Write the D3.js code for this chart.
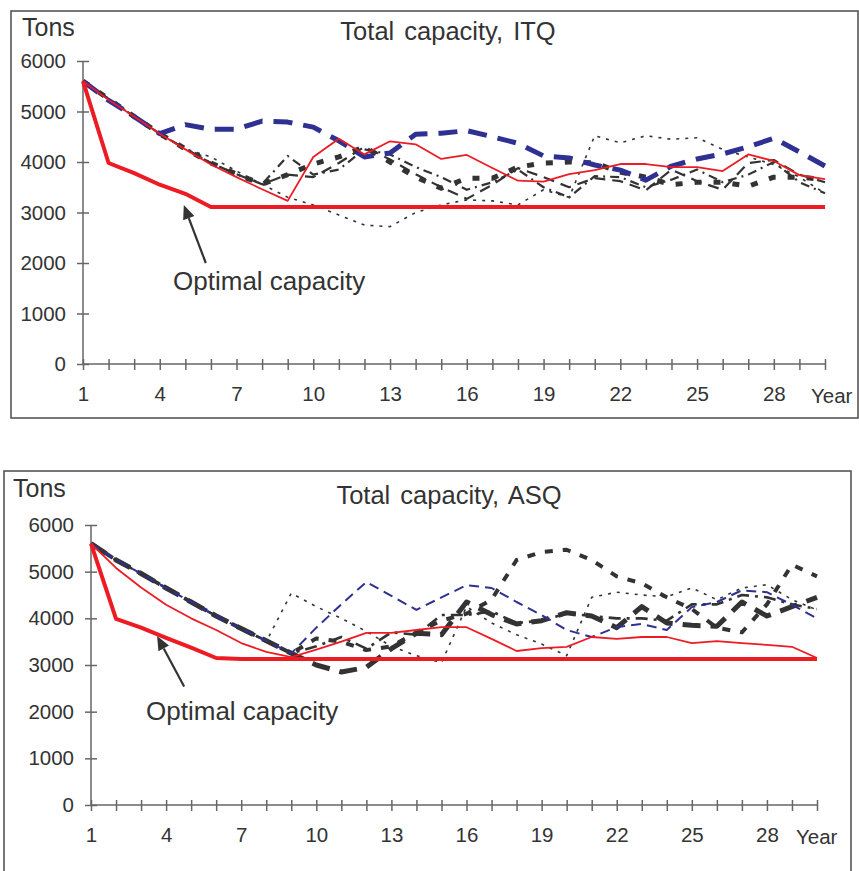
<!DOCTYPE html>
<html><head><meta charset="utf-8">
<script src="https://cdn.jsdelivr.net/npm/d3@7/dist/d3.min.js"></script>
<style>
html,body{margin:0;padding:0;background:#fff;}
svg{display:block;}
text{font-family:"Liberation Sans",Arial,Helvetica,sans-serif;fill:#333;}
</style></head>
<body>
<svg id="chart" width="859" height="871"></svg>
<script>
const years = [1,2,3,4,5,6,7,8,9,10,11,12,13,14,15,16,17,18,19,20,21,22,23,24,25,26,27,28,29,30];
const xTickLabels = [1,4,7,10,13,16,19,22,25,28];
const yTicks = [0,1000,2000,3000,4000,5000,6000];

// ITQ panel
const itqOptimal = [5600,3980,3780,3550,3370,3110,3110,3110,3110,3110,3110,3110,3110,3110,3110,3110,3110,3110,3110,3110,3110,3110,3110,3110,3110,3110,3110,3110,3110,3110];
const itqRed     = [5600,5230,4900,4560,4250,3950,3700,3460,3230,4100,4460,4150,4410,4350,4060,4140,3880,3630,3610,3760,3840,3960,3960,3900,3900,3820,4150,4020,3740,3660];
const itqBlue    = [5600,5220,4900,4560,4740,4650,4650,4810,4790,4690,4420,4100,4180,4550,4570,4620,4500,4370,4120,4080,3940,3840,3640,3920,4060,4160,4300,4470,4200,3920];
const itqBlackHeavy = [5600,5250,4900,4560,4260,3980,3760,3560,3750,3960,4100,4300,4000,3700,3480,3680,3680,3900,3980,4000,3980,3800,3700,3550,3600,3600,3520,3700,3700,3650];
const itqBlackDash  = [5600,5250,4900,4560,4260,3980,3760,3560,3750,3700,3980,4300,4050,3760,3500,3270,3550,3880,3700,3500,3680,3620,3440,3850,3620,3450,3980,4040,3750,3600];
const itqBlackDashDot = [5600,5250,4900,4560,4260,3980,3760,3560,4120,3750,3850,4250,4150,3900,3700,3450,3600,3850,3500,3300,3720,3700,3500,3650,3850,3600,3750,4000,3600,3380];
const itqBlackDot   = [5600,5250,4900,4560,4260,4100,3820,3560,3300,3150,2950,2750,2720,3000,3150,3250,3230,3150,3450,3300,4520,4380,4520,4450,4480,4250,4100,3950,3700,3380];

// ASQ panel
const asqOptimal = [5600,3990,3800,3580,3370,3150,3130,3130,3130,3130,3130,3130,3130,3130,3130,3130,3130,3130,3130,3130,3130,3130,3130,3130,3130,3130,3130,3130,3130,3130];
const asqRed     = [5600,5080,4660,4290,4000,3750,3470,3280,3170,3330,3500,3690,3690,3750,3810,3810,3560,3300,3360,3390,3600,3560,3600,3600,3470,3510,3470,3430,3390,3150];
const asqBlue    = [5600,5250,4960,4650,4350,4050,3780,3520,3250,3800,4300,4780,4480,4180,4450,4710,4650,4350,4070,3750,3600,3810,3880,3750,4240,4350,4600,4560,4290,4000];
const asqBlackHeavy = [5600,5250,4960,4650,4350,4050,3780,3520,3250,3000,2850,2950,3350,3680,3650,4350,4080,3880,3950,4120,4050,3800,4250,3900,3850,3830,4350,4050,4250,4450];
const asqBlackDash  = [5600,5250,4960,4650,4350,4050,3780,3520,3250,3570,3500,3320,3400,3700,3950,4100,4400,5250,5420,5470,5250,4900,4750,4450,4200,3800,3700,4300,5150,4900];
const asqBlackDashDot = [5600,5250,4960,4650,4350,4050,3780,3520,3250,3400,3600,3350,3700,3650,4070,4070,4150,3900,3950,4100,4050,4000,4000,3950,4300,4300,4500,4450,4300,4200];
const asqBlackDot   = [5600,5250,4950,4650,4350,4050,3780,3500,4540,4250,4000,3720,3400,3200,3050,4250,3900,3650,3450,3200,4450,4560,4500,4460,4650,4400,4650,4720,4400,4180];

const RED = "#ed1c24", BLUE = "#2e3192", BLACK = "#333333", AXIS = "#666666";

const svg = d3.select("#chart");

function panel(cfg) {
  const g = svg.append("g");
  // frame
  g.append("rect").attr("x", cfg.frame[0]).attr("y", cfg.frame[1])
    .attr("width", cfg.frame[2]).attr("height", cfg.frame[3])
    .attr("fill", "none").attr("stroke", "#555").attr("stroke-width", 1.6);

  const x = d3.scaleLinear().domain([1, 30]).range([cfg.x0, cfg.x1]);
  const y = d3.scaleLinear().domain([0, 6000]).range([cfg.y0, cfg.y1]);

  // y axis
  const ya = g.append("g").attr("transform", `translate(${cfg.x0},0)`)
    .call(d3.axisLeft(y).tickValues(yTicks).tickSize(6).tickPadding(11).tickFormat(d3.format("d")));
  ya.select(".domain").attr("stroke", AXIS).attr("stroke-width", 1.5).attr("d", `M0,${cfg.y0}V${cfg.y1}`);
  ya.selectAll(".tick line").attr("stroke", AXIS).attr("stroke-width", 1.5).attr("x1", -6).attr("x2", 6);
  ya.selectAll(".tick text").attr("font-size", 20.5).attr("fill", "#333")
    .attr("font-family", '"Liberation Sans",Arial,sans-serif');

  // x axis
  const xa = g.append("g").attr("transform", `translate(0,${cfg.y0})`)
    .call(d3.axisBottom(x).tickValues(years).tickSize(5).tickPadding(17)
      .tickFormat(d => xTickLabels.includes(d) ? d : ""));
  xa.select(".domain").attr("stroke", AXIS).attr("stroke-width", 1.5).attr("d", `M${cfg.x0},0H${cfg.x1}`);
  xa.selectAll(".tick line").attr("stroke", AXIS).attr("stroke-width", 1.5).attr("y1", -5).attr("y2", 6);
  xa.selectAll(".tick text").attr("font-size", 20.5).attr("fill", "#333")
    .attr("font-family", '"Liberation Sans",Arial,sans-serif');

  g.append("text").attr("x", cfg.yearX).attr("y", cfg.y0 + 39).attr("font-size", 20.5).text("Year");
  g.append("text").attr("x", cfg.tonsX).attr("y", cfg.tonsY).attr("font-size", 25).text("Tons");
  g.append("text").attr("x", cfg.titleX).attr("y", cfg.titleY).attr("font-size", 25.5)
    .attr("text-anchor", "middle").attr("word-spacing", 3).text(cfg.title);

  const line = d3.line().x((d, i) => x(years[i])).y(d => y(d));
  cfg.series.forEach(s => {
    g.append("path").datum(s.values).attr("d", line)
      .attr("fill", "none").attr("stroke", s.color).attr("stroke-width", s.width)
      .attr("stroke-dasharray", s.dash || null).attr("stroke-linejoin", "round");
  });

  // annotation
  const a = cfg.arrow;
  const tx = x(a.tail[0]), ty = y(a.tail[1]), hx = x(a.head[0]), hy = y(a.head[1]);
  const ang = Math.atan2(hy - ty, hx - tx);
  const L = 14, W = 6;
  const bx = hx - L * Math.cos(ang), by = hy - L * Math.sin(ang);
  g.append("line").attr("x1", tx).attr("y1", ty).attr("x2", bx).attr("y2", by)
    .attr("stroke", "#333").attr("stroke-width", 2.2);
  g.append("path").attr("d",
    `M${hx},${hy}L${bx + W * Math.sin(ang)},${by - W * Math.cos(ang)}L${bx - W * Math.sin(ang)},${by + W * Math.cos(ang)}Z`)
    .attr("fill", "#333");
  g.append("text").attr("x", x(a.label[0])).attr("y", y(a.label[1])).attr("font-size", 26).text("Optimal capacity");
}

panel({
  frame: [11, 11, 847, 407],
  x0: 83, x1: 825, y0: 364, y1: 61,
  yearX: 811, tonsX: 22, tonsY: 36, titleX: 448, titleY: 40,
  title: "Total capacity, ITQ",
  arrow: { tail: [5.8, 2000], head: [4.94, 3150], label: [4.52, 1460] },
  series: [
    { values: itqBlackDot, color: BLACK, width: 1.6, dash: "3,6" },
    { values: itqBlackDashDot, color: BLACK, width: 2.2, dash: "9,5,2,5" },
    { values: itqBlackDash, color: BLACK, width: 2.2, dash: "11,7" },
    { values: itqBlackHeavy, color: BLACK, width: 5, dash: "7,12" },
    { values: itqBlue, color: BLUE, width: 5, dash: "19,11" },
    { values: itqRed, color: RED, width: 1.8 },
    { values: itqOptimal, color: RED, width: 4 }
  ]
});

panel({
  frame: [4, 471, 847, 420],
  x0: 91, x1: 817, y0: 805, y1: 525,
  yearX: 796, tonsX: 13, tonsY: 497, titleX: 449, titleY: 504,
  title: "Total capacity, ASQ",
  arrow: { tail: [4.72, 2540], head: [3.64, 3620], label: [3.2, 1830] },
  series: [
    { values: asqBlackDot, color: BLACK, width: 1.6, dash: "3,6" },
    { values: asqBlackDashDot, color: BLACK, width: 2.6, dash: "12,6,3,6" },
    { values: asqBlackDash, color: BLACK, width: 4, dash: "8,10" },
    { values: asqBlackHeavy, color: BLACK, width: 5, dash: "18,10" },
    { values: asqBlue, color: BLUE, width: 2, dash: "10,6" },
    { values: asqRed, color: RED, width: 1.8 },
    { values: asqOptimal, color: RED, width: 4 }
  ]
});
</script>
</body></html>
